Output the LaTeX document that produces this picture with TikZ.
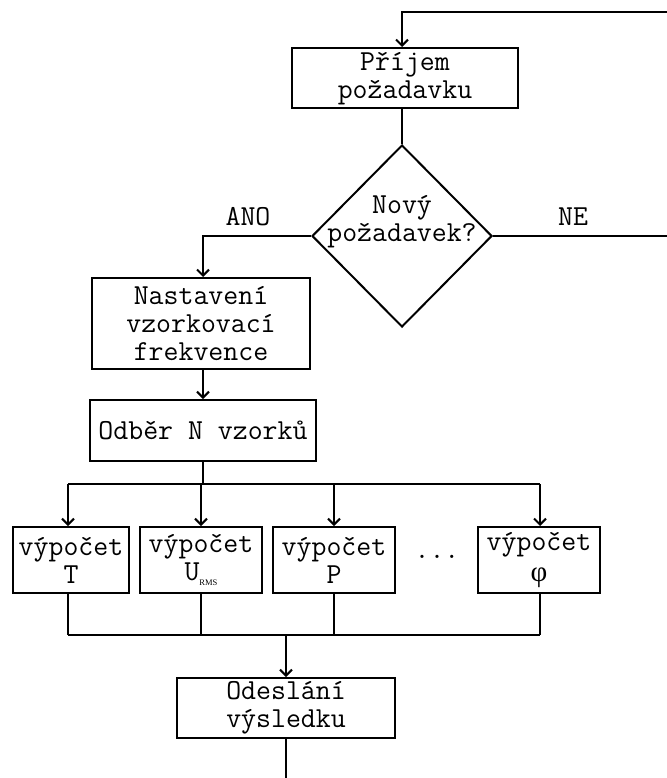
\documentclass[tikz,border=0pt]{standalone}
\usepackage{fontspec}
\newfontfamily\serifsym{Liberation Serif}
\usetikzlibrary{arrows.meta,shapes.geometric}
\begin{document}
\begin{tikzpicture}[x=1pt,y=-1pt,
  every node/.style={font=\ttfamily\fontsize{29}{28}\selectfont, inner sep=0pt, align=center},
  box/.style={draw, rectangle, line width=2pt},
  flow/.style={line width=2pt},
  arr/.style={flow, -{Straight Barb[length=6pt,width=12pt,line width=2pt]}}]
  \fill[white] (0,0) rectangle (666,778);
  \useasboundingbox (0,0) rectangle (666,778);

  % process boxes
  \node[box, minimum width=226pt, minimum height=60pt] (recv) at (405,78) {Příjem\\požadavku};
  \node[draw, diamond, line width=2pt, minimum width=180pt, minimum height=182pt] (dia) at (402,236) {};
  \node (diatext) at (402,222) {Nový\\požadavek?};
  \node[box, minimum width=218pt, minimum height=91pt] (set) at (201,323.5) {Nastavení\\vzorkovací\\frekvence};
  \node[box, minimum width=226pt, minimum height=61pt] (odber) at (203,430.5) {Odběr N vzorků};
  \node[box, minimum width=116pt, minimum height=66pt] (cT) at (71,560) {výpočet\\T};
  \node[box, minimum width=122pt, minimum height=66pt] (cU) at (201,560) {výpočet\\U\raisebox{-5pt}{\serifsym\fontsize{8.5}{9}\selectfont RMS}};
  \node[box, minimum width=122pt, minimum height=66pt] (cP) at (334,560) {výpočet\\P};
  \node[box, minimum width=122pt, minimum height=66pt] (cF) at (539,560) {výpočet\\[3pt]{\serifsym φ}};
  \node[anchor=base] (dots) at (437,558) {...};
  \node[box, minimum width=218pt, minimum height=60pt] (send) at (286,708) {Odeslání\\výsledku};

  % branch labels
  \node (ano) at (248,217) {ANO};
  \node (ne) at (573,217) {NE};

  % routing points
  \coordinate (top) at (402,12);
  \coordinate (rt) at (668,12);
  \coordinate (sp1) at (68,484);
  \coordinate (sp2) at (201,484);
  \coordinate (sp3) at (334,484);
  \coordinate (sp4) at (540,484);
  \coordinate (jn1) at (68,635);
  \coordinate (jn2) at (201,635);
  \coordinate (jn3) at (334,635);
  \coordinate (jn4) at (540,635);
  \coordinate (out) at (286,782);

  % connectors
  \draw[arr] (dia.east) -- (rt |- dia.east) -- (rt) -- (top) -- (top |- recv.north);
  \draw[flow] (dia.north |- recv.south) -- (dia.north);
  \draw[arr] (dia.west) -| (odber.north |- set.north);
  \draw[arr] (odber.north |- set.south) -- (odber.north);
  \draw[flow] (odber.south) -- (odber.south |- sp1);
  \draw[flow] (sp1) -- (sp4);
  \draw[arr] (sp1) -- (sp1 |- cT.north);
  \draw[arr] (sp2) -- (sp2 |- cU.north);
  \draw[arr] (sp3) -- (sp3 |- cP.north);
  \draw[arr] (sp4) -- (sp4 |- cF.north);
  \draw[flow] (jn1 |- cT.south) -- (jn1);
  \draw[flow] (jn2 |- cU.south) -- (jn2);
  \draw[flow] (jn3 |- cP.south) -- (jn3);
  \draw[flow] (jn4 |- cF.south) -- (jn4);
  \draw[flow] (jn1) -- (jn4);
  \draw[arr] (send.north |- jn1) -- (send.north);
  \draw[flow] (send.south) -- (out);
\end{tikzpicture}
\end{document}
